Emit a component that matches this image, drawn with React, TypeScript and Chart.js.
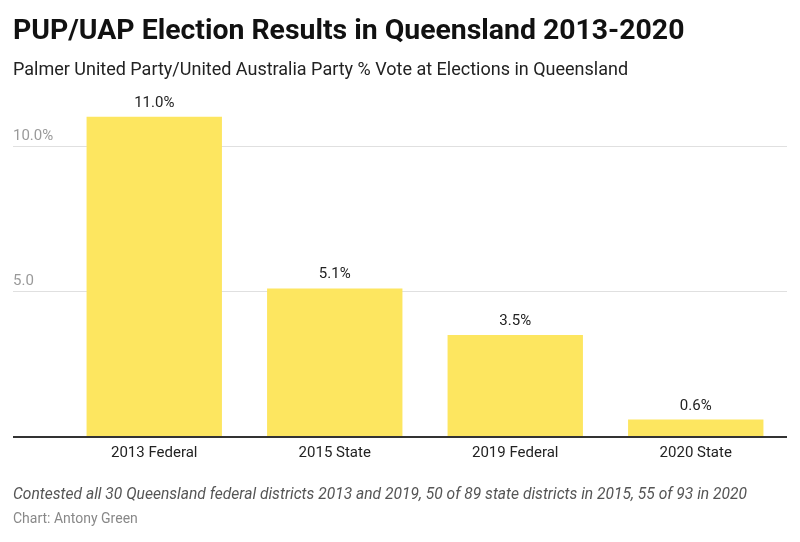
import React, { useEffect, useRef } from "react";
import { Chart, registerables } from "chart.js";

Chart.register(...registerables);

const categories = ["2013 Federal", "2015 State", "2019 Federal", "2020 State"];
const voteShare = [11.0, 5.1, 3.5, 0.6];
const yTickValues = [5, 10];
const yTickLabels = ["5.0", "10.0%"];

const TITLE = "PUP/UAP Election Results in Queensland 2013-2020";
const SUBTITLE = "Palmer United Party/United Australia Party % Vote at Elections in Queensland";
const NOTE = "Contested all 30 Queensland federal districts 2013 and 2019, 50 of 89 state districts in 2015, 55 of 93 in 2020";
const CREDIT = "Chart: Antony Green";

const LINE_LEFT = 13;
const LINE_RIGHT = 787;

const overlayPlugin = {
  id: "overlay",
  beforeDatasetsDraw(chart: any) {
    const { ctx, scales } = chart;
    const y = scales.y;
    ctx.save();
    yTickValues.forEach((v, i) => {
      const py = Math.round(y.getPixelForValue(v)) + 0.5;
      ctx.strokeStyle = "#e0e0e0";
      ctx.lineWidth = 1;
      ctx.beginPath();
      ctx.moveTo(LINE_LEFT, py);
      ctx.lineTo(LINE_RIGHT, py);
      ctx.stroke();
      ctx.fillStyle = "#9a9a9a";
      ctx.font = "15px Roboto";
      ctx.textAlign = "left";
      ctx.textBaseline = "alphabetic";
      ctx.fillText(yTickLabels[i], LINE_LEFT, py - 7);
    });
    ctx.restore();
  },
  afterDatasetsDraw(chart: any) {
    const { ctx, scales } = chart;
    const y = scales.y;
    ctx.save();
    const y0 = Math.round(y.getPixelForValue(0));
    ctx.strokeStyle = "#333333";
    ctx.lineWidth = 2;
    ctx.beginPath();
    ctx.moveTo(LINE_LEFT, y0);
    ctx.lineTo(LINE_RIGHT, y0);
    ctx.stroke();
    const meta = chart.getDatasetMeta(0);
    ctx.fillStyle = "#222222";
    ctx.font = "15px Roboto";
    ctx.textAlign = "center";
    ctx.textBaseline = "alphabetic";
    meta.data.forEach((bar: any, i: number) => {
      ctx.fillText(voteShare[i].toFixed(1) + "%", bar.x, bar.y - 10);
    });
    ctx.restore();
  },
};

export default function App() {
  const canvasRef = useRef<HTMLCanvasElement | null>(null);

  useEffect(() => {
    if (!canvasRef.current) return;
    Chart.defaults.font.family = "Roboto";
    const chart = new Chart(canvasRef.current, {
      type: "bar",
      data: {
        labels: categories,
        datasets: [
          {
            data: voteShare,
            backgroundColor: "#fde660",
            borderWidth: 0,
            barPercentage: 0.75,
            categoryPercentage: 1,
          },
        ],
      },
      options: {
        responsive: false,
        animation: false,
        layout: { padding: { left: 64, right: 14, top: 87.5, bottom: 73 } },
        plugins: {
          legend: { display: false },
          tooltip: { enabled: false },
          title: { display: false },
        },
        scales: {
          x: {
            grid: { display: false, drawTicks: false },
            border: { display: false },
            ticks: { color: "#222222", font: { size: 15, family: "Roboto" }, padding: 7 },
          },
          y: {
            display: false,
            min: 0,
            max: 12,
          },
        },
      },
      plugins: [overlayPlugin],
    });
    return () => chart.destroy();
  }, []);

  const base: React.CSSProperties = {
    position: "absolute",
    left: 13,
    margin: 0,
    fontFamily: "Roboto",
    lineHeight: "normal",
    whiteSpace: "nowrap",
  };

  return (
    <div style={{ position: "fixed", left: 0, top: 0, width: 800, height: 542, background: "#fff", overflow: "hidden" }}>
      <canvas ref={canvasRef} width={800} height={542} style={{ position: "absolute", left: 0, top: 0 }} />
      <div style={{ ...base, top: 13, fontSize: 28.4, fontWeight: 700, color: "#111" }}>{TITLE}</div>
      <div style={{ ...base, top: 57.5, fontSize: 18, color: "#222" }}>{SUBTITLE}</div>
      <div style={{ ...base, top: 484.5, fontSize: 15.6, fontStyle: "italic", color: "#555" }}>{NOTE}</div>
      <div style={{ ...base, top: 510, fontSize: 14, color: "#888" }}>{CREDIT}</div>
    </div>
  );
}
